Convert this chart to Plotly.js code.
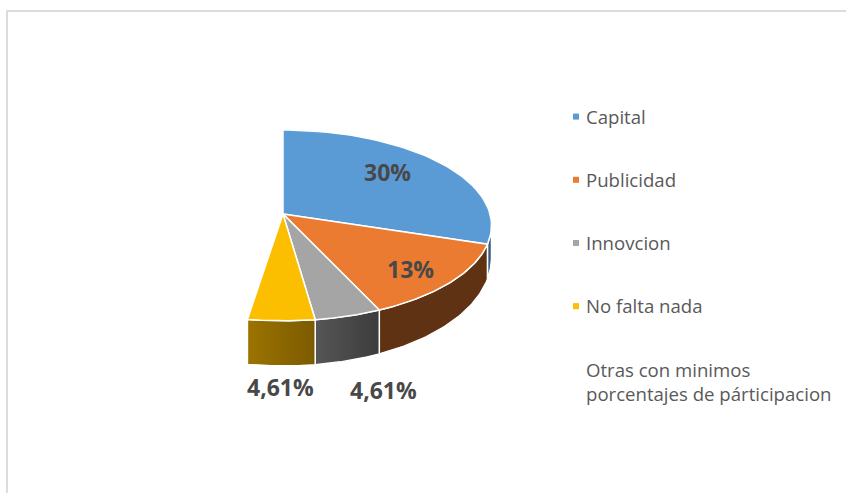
<!DOCTYPE html>
<html>
<head>
<meta charset="utf-8">
<script src="https://cdn.plot.ly/plotly-3.0.1.min.js"></script>
<style>html,body{margin:0;padding:0;background:#fff}</style>
</head>
<body>
<div id="chart" style="width:846px;height:493px"></div>
<script>
const categories = ["Capital","Publicidad","Innovcion","No falta nada","Otras con minimos<br>porcentajes de párticipacion"];
const values = [30,13.2,4.61,4.61,47.58];
const labels = ["30%","13%","4,61%","4,61%",""];
const topColors = ["#5B9BD5","#EB7B31","#A5A5A5","#FCBF00","rgba(255,255,255,0)"];
const wallLeft  = ["#335C82","#5F3213","#565656","#9C7300",null];
const wallRight = ["#335C82","#5F3213","#3C3C3C","#7C5B00",null];
const labelPos = [[387,172],[410,269],[383,390],[280,387]];

// Perspective projection of the tilted disc
const P = {cx:283, cy:214, a:207, b:94, k:0.12};
function rim(t){
  const u=Math.sin(t), v=-Math.cos(t), d=1-P.k*v;
  return {x:P.cx+P.a*u/d, y:P.cy+P.b*v/d, v};
}
function wallDepth(v){ return 35+(v-0.31)*14.7; }
const VIS_START = 97*Math.PI/180, VIS_END = 262*Math.PI/180;
const total = values.reduce((s,v)=>s+v,0);
const traces=[], tops=[];
let acc=0;
values.forEach((val,i)=>{
  const t0=acc/total*2*Math.PI; acc+=val; const t1=acc/total*2*Math.PI;
  if(i<4){
    const a0=Math.max(t0,VIS_START), a1=Math.min(t1,VIS_END);
    if(a1>a0){
      const xs=[],ys=[],xb=[],yb=[];
      for(let j=0;j<=40;j++){
        const p=rim(a0+(a1-a0)*j/40);
        xs.push(p.x); ys.push(p.y);
        xb.unshift(p.x); yb.unshift(p.y+wallDepth(p.v));
      }
      traces.push({type:"scatter",mode:"lines",x:xs.concat(xb,[xs[0]]),y:ys.concat(yb,[ys[0]]),
        fill:"toself",line:{color:"#ffffff",width:1.5},showlegend:false,hoverinfo:"skip",
        fillgradient:{type:"horizontal",colorscale:[[0,wallLeft[i]],[1,wallRight[i]]]}});
    }
    const xs=[P.cx],ys=[P.cy];
    for(let j=0;j<=60;j++){const p=rim(t0+(t1-t0)*j/60); xs.push(p.x); ys.push(p.y);}
    xs.push(P.cx); ys.push(P.cy);
    tops.push({type:"scatter",mode:"lines",x:xs,y:ys,fill:"toself",fillcolor:topColors[i],
      line:{color:"#ffffff",width:1.5},showlegend:false,hoverinfo:"skip"});
  }
});
categories.forEach((c,i)=>{
  traces.push({type:"scatter",mode:"markers",x:[null],y:[null],name:c,legendgroup:"g"+i,
    marker:{symbol:"square",size:6,color:topColors[i]}});
});
const annotations=labels.slice(0,4).map((t,i)=>({x:labelPos[i][0],y:labelPos[i][1],text:t,showarrow:false,
  xanchor:"center",yanchor:"middle",font:{family:"Open Sans",size:23,color:"#484848",weight:700}}));
const layout={
  width:846,height:493,margin:{l:0,r:0,t:0,b:0},
  paper_bgcolor:"#fff",plot_bgcolor:"#fff",
  xaxis:{range:[0,846],visible:false,fixedrange:true},
  yaxis:{range:[493,0],visible:false,fixedrange:true},
  font:{family:"Open Sans"},
  annotations,
  shapes:[
    {type:"line",x0:7,x1:7,y0:10,y1:493,line:{color:"#dcdcdc",width:2}},
    {type:"line",x0:6,x1:846,y0:11,y1:11,line:{color:"#dcdcdc",width:2}}
  ],
  showlegend:true,
  legend:{x:546/846,xanchor:"left",y:1-98/493,yanchor:"top",tracegroupgap:36,
    bgcolor:"rgba(0,0,0,0)",font:{family:"Open Sans",size:18.6,color:"#595959"},itemclick:false,itemdoubleclick:false}
};
Plotly.newPlot("chart",traces.concat(tops),layout,{staticPlot:true,displayModeBar:false}).then(gd=>{
  gd.querySelectorAll(".legend .legendsymbols").forEach(s=>{s.setAttribute("transform","translate(10,0)");});
});
</script>
</body>
</html>
